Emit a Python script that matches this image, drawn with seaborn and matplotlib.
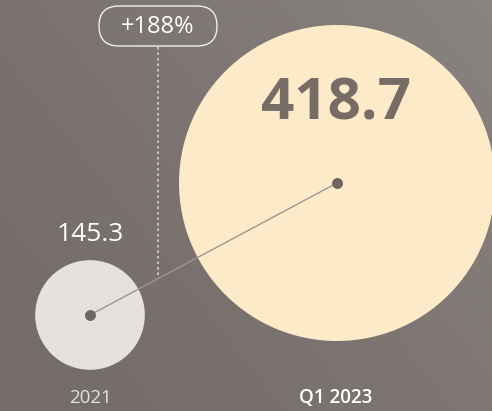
import numpy as np
import pandas as pd
import matplotlib
matplotlib.use("Agg")
import matplotlib.pyplot as plt
import seaborn as sns
from matplotlib.patches import FancyBboxPatch

# ---- data ----
periods = ["2021", "Q1 2023"]
values = [145.3, 418.7]
growth_label = "+188%"

# ---- style / layout ----
W, H, DPI = 492, 411, 100
bg_dark = np.array([0x74, 0x6c, 0x68]) / 255
bg_light = np.array([0x8a, 0x84, 0x80]) / 255
circle_colors = {"2021": "#e4e1de", "Q1 2023": "#fdeac9"}
dot_color = "#6f665f"
centers_x = [90, 337]
centers_y = [315, 183]
max_diam_pt = 227.5  # diameter in points for the largest value

sns.set_theme(style="white")
plt.rcParams["font.family"] = ["Open Sans", "DejaVu Sans"]

fig = plt.figure(figsize=(W / DPI, H / DPI), dpi=DPI)
ax = fig.add_axes([0, 0, 1, 1])
ax.set_xlim(0, W)
ax.set_ylim(H, 0)
ax.axis("off")

# background gradient
yy, xx = np.mgrid[0:H, 0:W]
t = np.clip((xx / W) * 0.6 + (1 - yy / H) * 0.4, 0, 1)
t = t ** 1.5
img = bg_dark[None, None, :] * (1 - t[..., None]) + bg_light[None, None, :] * t[..., None]
ax.imshow(img, extent=[0, W, H, 0], zorder=0, aspect="auto")

df = pd.DataFrame({"period": periods, "value": values,
                   "x": centers_x, "y": centers_y})
scale = max_diam_pt / max(values)
size_map = {v: (v * scale) ** 2 for v in values}

sns.scatterplot(data=df, x="x", y="y", hue="period", palette=circle_colors,
                size="value", sizes=size_map, linewidth=0, legend=False,
                ax=ax, zorder=2)

# connecting line and center dots
ax.plot(df["x"], df["y"], color="#9d9692", lw=1.0, zorder=3)
sns.scatterplot(data=df, x="x", y="y", color=dot_color, s=62, linewidth=0,
                legend=False, ax=ax, zorder=4)

# dotted growth marker
ax.plot([158, 158], [47, 277], color="#d6d2ce", lw=1.2,
        linestyle=(0, (1.5, 1.8)), zorder=1)
box = FancyBboxPatch((99, 6), 118, 40, boxstyle="round,pad=0,rounding_size=20",
                     fill=False, edgecolor="#f2efec", lw=1.0, zorder=5)
ax.add_patch(box)
ax.text(158, 27, growth_label, ha="center", va="center", color="white",
        fontsize=17, fontweight="normal", zorder=6)

# value labels
ax.text(90, 234, f"{values[0]:.1f}", ha="center", va="center", color="white",
        fontsize=19, fontweight="medium", zorder=6)
ax.text(336, 104, f"{values[1]:.1f}", ha="center", va="center", color="#776d66",
        fontsize=42, fontweight="bold", zorder=6)

# period labels
ax.text(90, 398, periods[0], ha="center", va="center", color="#e6e2de",
        fontsize=13.5, zorder=6)
ax.text(336, 398, periods[1], ha="center", va="center", color="white",
        fontsize=13.5, fontweight="semibold", zorder=6)

fig.savefig("out.png", dpi=DPI)
